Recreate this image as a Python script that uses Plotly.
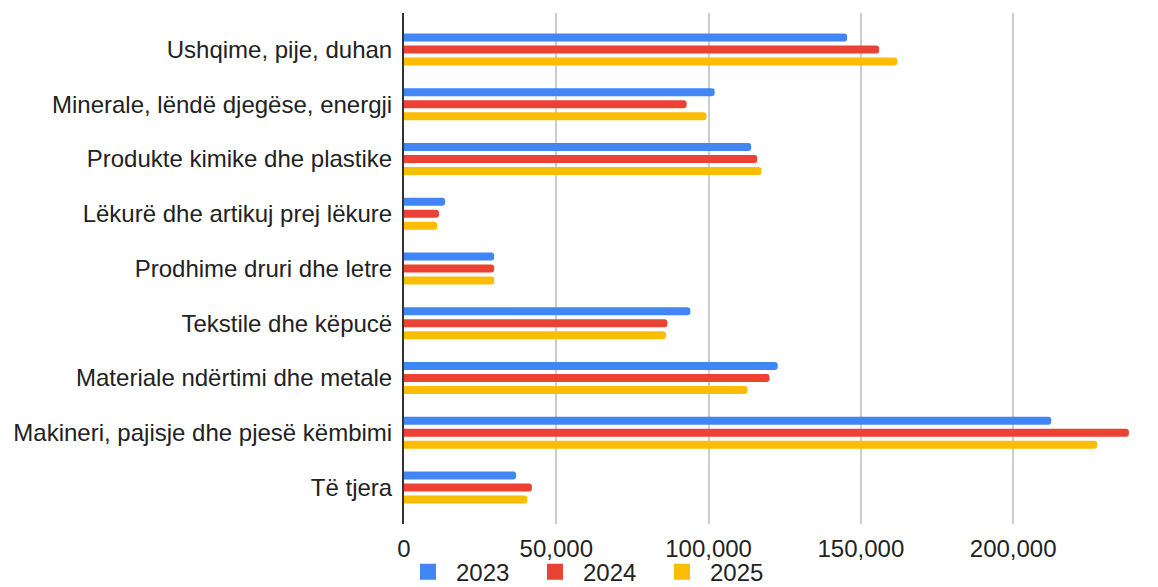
import plotly.graph_objects as go

categories = [
    "Ushqime, pije, duhan",
    "Minerale, lëndë djegëse, energji",
    "Produkte kimike dhe plastike",
    "Lëkurë dhe artikuj prej lëkure",
    "Prodhime druri dhe letre",
    "Tekstile dhe këpucë",
    "Materiale ndërtimi dhe metale",
    "Makineri, pajisje dhe pjesë këmbimi",
    "Të tjera",
]
v2023 = [145500, 102000, 114000, 13500, 29600, 94000, 122700, 212500, 36800]
v2024 = [156000, 92800, 116000, 11500, 29600, 86500, 120000, 238000, 42000]
v2025 = [162000, 99300, 117400, 10900, 29600, 86000, 112800, 227600, 40500]
tick_vals = [0, 50000, 100000, 150000, 200000]
tick_text = ["0", "50,000", "100,000", "150,000", "200,000"]

series = [("2023", v2023, "#4285F4"), ("2024", v2024, "#EA4335"), ("2025", v2025, "#FBBC04")]

fig = go.Figure()
for name, vals, col in series:
    fig.add_trace(go.Bar(y=categories, x=vals, name=name, orientation="h", showlegend=False,
                         marker=dict(color=col, line=dict(width=0))))
# legend-only entries with larger square swatches
for name, vals, col in series:
    fig.add_trace(go.Scatter(x=[None], y=[None], name=name, mode="markers",
                             marker=dict(symbol="square", size=20, color=col)))

pad = 0.665
font = "Liberation Sans, Arial, sans-serif"
fig.update_layout(
    width=1150, height=579,
    margin=dict(l=396, r=23, t=5, b=63, autoexpand=False),
    paper_bgcolor="white", plot_bgcolor="white",
    barmode="group", bargap=0.344, bargroupgap=0.333, barcornerradius=4,
    font=dict(family=font, size=24, color="#222222"),
    showlegend=True,
    legend=dict(orientation="h", x=-0.0055, xanchor="left", y=-0.05, yanchor="top",
                bgcolor="rgba(0,0,0,0)",
                font=dict(size=24, color="#222222"), itemwidth=46, traceorder="normal",
                itemsizing="trace", entrywidth=66, entrywidthmode="pixels"),
    xaxis=dict(range=[0, 240000], tickvals=tick_vals, ticktext=tick_text,
               showgrid=True, gridcolor="#cccccc", gridwidth=1.5,
               zeroline=False, showline=False, ticks="",
               ticklabelstandoff=8,
               tickfont=dict(size=24, color="#222222"), automargin=False),
    yaxis=dict(range=[len(categories) - 1 + pad, -pad], showline=True,
               linecolor="#333333", linewidth=2,
               showgrid=False, ticks="", ticklabelstandoff=5,
               tickfont=dict(size=24, color="#222222"), automargin=False),
)
fig.write_html("out.html")
